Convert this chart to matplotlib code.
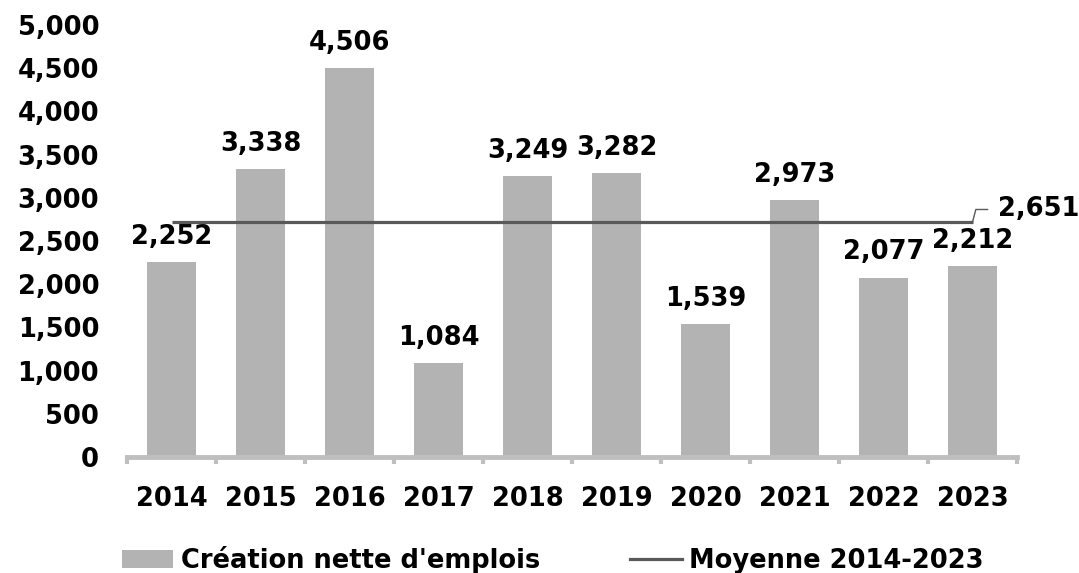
import matplotlib
matplotlib.use("Agg")
import matplotlib.pyplot as plt
from matplotlib.lines import Line2D
from matplotlib.patches import Patch

years = ["2014", "2015", "2016", "2017", "2018", "2019", "2020", "2021", "2022", "2023"]
jobs = [2252, 3338, 4506, 1084, 3249, 3282, 1539, 2973, 2077, 2212]
mean_value = 2651
yticks = [0, 500, 1000, 1500, 2000, 2500, 3000, 3500, 4000, 4500, 5000]
bar_label = "Création nette d'emplois"
line_label = "Moyenne 2014-2023"

plt.rcParams['font.family'] = ['DejaVu Sans']
FS = 18.5
BAR_C = "#B3B3B3"
LINE_C = "#595959"
AX_C = "#BFBFBF"

fig = plt.figure(figsize=(10.79, 5.73), dpi=100)
ax = fig.add_axes([127/1079, 1-457/573, (1017-127)/1079, (457-25)/573])

x = list(range(len(years)))
ax.bar(x, jobs, width=0.55, color=BAR_C, zorder=2)
ax.set_xlim(-0.5, len(years)-0.5)
ax.set_ylim(0, 5000)

for xi, v in zip(x, jobs):
    ax.annotate(f"{v:,}", (xi, v), xytext=(0, 13), textcoords="offset points",
                ha="center", va="baseline", fontsize=FS, fontweight="bold")

# secondary (hidden) axis for the average line, as in the original
ax2 = ax.twinx()
ax2.set_ylim(0, 4873)
ax2.axis("off")
ax2.set_xlim(-0.5, len(years)-0.5)
ax2.plot([x[0], x[-1]], [mean_value, mean_value], color=LINE_C, lw=2.3, zorder=3,
         solid_capstyle="butt")
ax2.annotate(f"{mean_value:,}", (x[-1], mean_value), xytext=(18, 9), textcoords="offset points",
             ha="left", va="center", fontsize=FS, fontweight="bold",
             arrowprops=dict(arrowstyle="-", color=LINE_C, lw=1.0,
                             connectionstyle="angle,angleA=0,angleB=75,rad=0",
                             shrinkA=5, shrinkB=0))

# y axis
ax.set_yticks(yticks)
ax.set_yticklabels([f"{t:,}" for t in yticks], fontsize=FS, fontweight="bold")
ax.tick_params(axis="y", length=0, pad=20)

# x axis: ticks at category boundaries, labels at centers
ax.set_xticks([i - 0.5 for i in range(len(years)+1)])
ax.set_xticklabels([])
ax.tick_params(axis="x", which="major", length=5, width=3, color=AX_C, direction="out")
ax.set_xticks(x, minor=True)
ax.set_xticklabels(years, minor=True, fontsize=FS, fontweight="bold")
ax.tick_params(axis="x", which="minor", length=0, pad=21)

for s in ["left", "right", "top"]:
    ax.spines[s].set_visible(False)
ax.spines["bottom"].set_color(AX_C)
ax.spines["bottom"].set_linewidth(3.5)

handles = [Patch(facecolor=BAR_C, edgecolor="none"),
           Line2D([0], [0], color=LINE_C, lw=2.3)]
fig.legend(handles, [bar_label, line_label], loc="center",
           bbox_to_anchor=(553/1079, 1-560/573), ncol=2, frameon=False,
           prop=dict(size=FS, weight="bold"), handlelength=2.0, handleheight=0.7,
           handletextpad=0.3, columnspacing=3.5, borderpad=0, borderaxespad=0)

fig.savefig("out.png", dpi=100)
